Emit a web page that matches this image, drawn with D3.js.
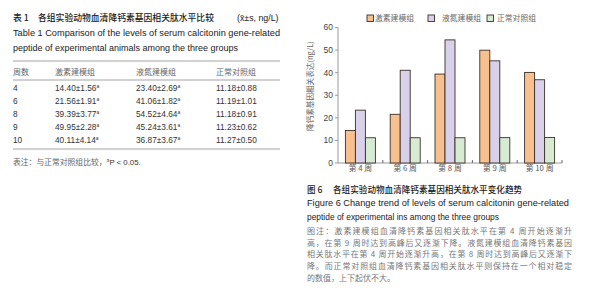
<!DOCTYPE html>
<html>
<head>
<meta charset="utf-8">
<script src="https://cdn.jsdelivr.net/npm/d3@7"></script>
<style>
  body { margin: 0; background: #fff; }
  svg { display: block; }
</style>
</head>
<body>
<div id="chart-container"></div>
<script>
const weeks = ["4", "6", "8", "9", "10"];
const weekLabels = ["第 4 周", "第 6 周", "第 8 周", "第 9 周", "第 10 周"];
const groupNames = ["激素建模组", "液氮建模组", "正常对照组"];
const hormone = [14.40, 21.56, 39.39, 49.95, 40.11];
const hormoneSD = [1.56, 1.91, 3.77, 2.28, 4.14];
const nitrogen = [23.40, 41.06, 54.52, 45.24, 36.87];
const nitrogenSD = [2.69, 1.82, 4.64, 3.61, 3.67];
const control = [11.18, 11.19, 11.18, 11.23, 11.27];
const controlSD = [0.88, 1.01, 0.91, 0.62, 0.50];
const yTicks = [0, 10, 20, 30, 40, 50, 60];

const series = [hormone, nitrogen, control];
const seriesSD = [hormoneSD, nitrogenSD, controlSD];
const signif = [true, true, false];
const colors = ["#f8c08f", "#d9d0ea", "#d7ebd3"];

const cjk = "'Noto Sans CJK SC', sans-serif";
const latin = "'Liberation Sans', Arial, sans-serif";

const width = 595, height = 300;

var svg = d3.select("#chart-container")
  .append("svg")
  .attr("width", width)
  .attr("height", height);

svg.append("rect").attr("width", width).attr("height", height).attr("fill", "#fff");

/* ---------- left: table ---------- */
var tbl = svg.append("g");

var t1 = tbl.append("text")
  .attr("x", 13).attr("y", 21)
  .style("font-family", cjk).style("font-size", "8.8px").style("fill", "#1a1a1a");
t1.append("tspan").style("font-weight", 500).text("表 1");
t1.append("tspan").attr("x", 38).style("font-weight", 500).text("各组实验动物血清降钙素基因相关肽水平比较");
t1.append("tspan").attr("x", 237).style("font-family", latin).text("(x\u0304±s, ng/L)");

tbl.append("text")
  .attr("x", 13).attr("y", 36)
  .attr("textLength", 267).attr("lengthAdjust", "spacingAndGlyphs")
  .style("font-family", latin).style("font-size", "8.8px").style("fill", "#222")
  .text("Table 1   Comparison of the levels of serum calcitonin gene-related");

tbl.append("text")
  .attr("x", 13).attr("y", 51)
  .attr("textLength", 225).attr("lengthAdjust", "spacingAndGlyphs")
  .style("font-family", latin).style("font-size", "8.8px").style("fill", "#222")
  .text("peptide of experimental animals among the three groups");

// rules
[61, 80, 149].forEach(y => {
  tbl.append("line")
    .attr("x1", 13).attr("x2", 280).attr("y1", y).attr("y2", y)
    .attr("stroke", "#9a9a9a").attr("stroke-width", 0.9);
});

const colX = [13, 55, 136, 216];
const headers = ["周数"].concat(groupNames);

tbl.selectAll(".hdr")
  .data(headers)
  .enter()
  .append("text")
  .attr("class", "hdr")
  .attr("x", (d, i) => colX[i])
  .attr("y", 75)
  .style("font-family", cjk).style("font-size", "8px").style("fill", "#666")
  .text(d => d);

const rowY = d3.scalePoint().domain(weeks).range([91, 143]);
const fmt = d3.format(".2f");

weeks.forEach((w, r) => {
  tbl.append("text")
    .attr("x", colX[0]).attr("y", rowY(w))
    .style("font-family", latin).style("font-size", "8.3px").style("fill", "#333")
    .text(w);
  series.forEach((s, c) => {
    var cell = tbl.append("text")
      .attr("x", colX[c + 1]).attr("y", rowY(w))
      .style("font-family", latin).style("font-size", "8.3px").style("fill", "#333")
      .text(fmt(s[r]) + "±" + fmt(seriesSD[c][r]));
    if (signif[c]) {
      cell.append("tspan").attr("dy", -3).style("font-size", "5px").text("a");
    }
  });
});

var note = tbl.append("text")
  .attr("x", 13).attr("y", 165)
  .style("font-family", cjk).style("font-size", "7.8px").style("fill", "#666");
note.append("tspan").text("表注：与正常对照组比较，");
note.append("tspan").attr("dy", -3).style("font-size", "5px").style("fill", "#333").text("a");
note.append("tspan").attr("dy", 3).style("font-family", latin).style("fill", "#333").text("P < 0.05.");

/* ---------- right: grouped bar chart ---------- */
var chart = svg.append("g");

const x0 = d3.scaleBand().domain(weekLabels).range([338, 562]).paddingInner(0);
const x1 = d3.scaleBand().domain(groupNames).range([0, x0.bandwidth()]).paddingOuter(0.74).paddingInner(0);
const y = d3.scaleLinear().domain([0, 60]).range([163, 27.5]);

// axes
chart.append("line")
  .attr("x1", 338).attr("x2", 338).attr("y1", y(60)).attr("y2", y(0))
  .attr("stroke", "#999").attr("stroke-width", 1);
chart.append("line")
  .attr("x1", 338).attr("x2", 562).attr("y1", y(0)).attr("y2", y(0))
  .attr("stroke", "#999").attr("stroke-width", 1);

chart.selectAll(".ytick")
  .data(yTicks)
  .enter()
  .append("line")
  .attr("x1", 335).attr("x2", 338)
  .attr("y1", d => y(d)).attr("y2", d => y(d))
  .attr("stroke", "#999");

chart.selectAll(".ylab")
  .data(yTicks)
  .enter()
  .append("text")
  .attr("x", 333).attr("y", d => y(d)).attr("dy", "0.35em")
  .style("text-anchor", "end")
  .style("font-family", latin).style("font-size", "8.5px").style("fill", "#444")
  .text(d => d);

// ticks between the groups
chart.selectAll(".xtick")
  .data(weekLabels.slice(1).concat(["end"]))
  .enter()
  .append("line")
  .attr("x1", (d, i) => 338 + (i + 1) * x0.step())
  .attr("x2", (d, i) => 338 + (i + 1) * x0.step())
  .attr("y1", y(0) - 3).attr("y2", y(0))
  .attr("stroke", "#666");

chart.selectAll(".xlab")
  .data(weekLabels)
  .enter()
  .append("text")
  .attr("x", d => x0(d) + x0.bandwidth() / 2)
  .attr("y", 171)
  .style("text-anchor", "middle")
  .style("font-family", cjk).style("font-size", "7.8px").style("fill", "#555")
  .text(d => d);

// bars
const barData = [];
weekLabels.forEach((wk, i) => {
  groupNames.forEach((g, j) => {
    barData.push({ week: wk, group: g, value: series[j][i], color: colors[j] });
  });
});

chart.selectAll(".bar")
  .data(barData)
  .enter()
  .append("rect")
  .attr("class", "bar")
  .attr("x", d => x0(d.week) + x1(d.group))
  .attr("y", d => y(d.value))
  .attr("width", x1.bandwidth())
  .attr("height", d => y(0) - y(d.value))
  .attr("fill", d => d.color)
  .attr("stroke", "#3b3029")
  .attr("stroke-width", 0.9);

// y label
chart.append("text")
  .attr("transform", "translate(313,86) rotate(-90)")
  .style("text-anchor", "middle")
  .style("font-family", cjk).style("font-size", "7.6px").style("fill", "#666")
  .text("降钙素基因相关表达(ng/L)");

// legend
const legX = [367, 428, 487];
const legTextX = [375, 442, 497];
var legend = chart.selectAll(".legend")
  .data(groupNames)
  .enter()
  .append("g")
  .attr("class", "legend");

legend.append("rect")
  .attr("x", (d, i) => legX[i]).attr("y", 15)
  .attr("width", 6.5).attr("height", 6.5)
  .attr("fill", (d, i) => colors[i])
  .attr("stroke", "#3b3029").attr("stroke-width", 0.9);

legend.append("text")
  .attr("x", (d, i) => legTextX[i]).attr("y", 18.5).attr("dy", "0.35em")
  .style("font-family", cjk).style("font-size", "7.8px").style("fill", "#666")
  .text(d => d);

/* ---------- right: caption ---------- */
var cap = svg.append("g");

var c1 = cap.append("text")
  .attr("x", 307).attr("y", 193)
  .style("font-family", cjk).style("font-size", "8.6px").style("fill", "#1a1a1a").style("font-weight", 500);
c1.append("tspan").text("图 6");
c1.append("tspan").attr("x", 333).text("各组实验动物血清降钙素基因相关肽水平变化趋势");

cap.append("text")
  .attr("x", 307).attr("y", 206)
  .attr("textLength", 262).attr("lengthAdjust", "spacingAndGlyphs")
  .style("font-family", latin).style("font-size", "8.8px").style("fill", "#222")
  .text("Figure 6   Change trend of levels of serum calcitonin gene-related");

cap.append("text")
  .attr("x", 307).attr("y", 220)
  .attr("textLength", 192).attr("lengthAdjust", "spacingAndGlyphs")
  .style("font-family", latin).style("font-size", "8.8px").style("fill", "#222")
  .text("peptide of experimental ins among the three groups");

const noteLines = [
  "图注：激素建模组血清降钙素基因相关肽水平在第 4 周开始逐渐升",
  "高，在第 9 周时达到高峰后又逐渐下降。液氮建模组血清降钙素基因",
  "相关肽水平在第 4 周开始逐渐升高，在第 8 周时达到高峰后又逐渐下",
  "降。而正常对照组血清降钙素基因相关肽水平则保持在一个相对稳定",
  "的数值，上下起伏不大。"
];

cap.selectAll(".note")
  .data(noteLines)
  .enter()
  .append("text")
  .attr("x", 307)
  .attr("y", (d, i) => 234 + i * 11.7)
  .attr("textLength", (d, i) => i < 4 ? 265 : null)
  .attr("lengthAdjust", "spacing")
  .style("font-family", cjk).style("font-size", "8px").style("fill", "#777")
  .text(d => d);
</script>
</body>
</html>
